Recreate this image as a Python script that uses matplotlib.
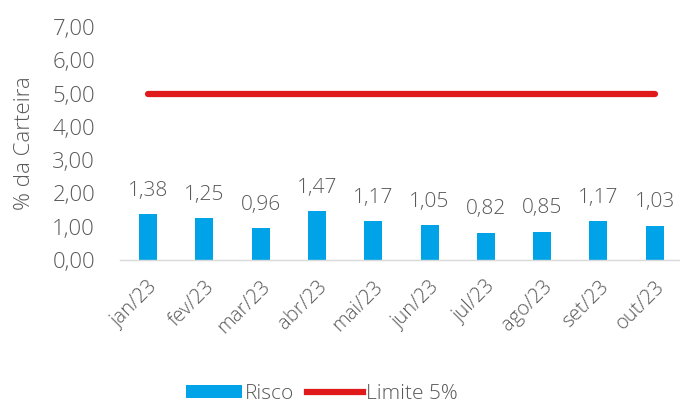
import matplotlib
matplotlib.use("Agg")
import matplotlib.pyplot as plt
from matplotlib.patches import Patch
from matplotlib.lines import Line2D

categories = ["jan/23", "fev/23", "mar/23", "abr/23", "mai/23", "jun/23", "jul/23", "ago/23", "set/23", "out/23"]
risco = [1.38, 1.25, 0.96, 1.47, 1.17, 1.05, 0.82, 0.85, 1.17, 1.03]
limite = [5.0] * len(categories)
yticks = [0, 1, 2, 3, 4, 5, 6, 7]

plt.rcParams['font.family'] = ['Open Sans', 'DejaVu Sans']
gray = "#595959"
blue = "#00A3E8"
red = "#E01A1A"

fig = plt.figure(figsize=(6.8, 4.05), dpi=100)
ax = fig.add_axes([120/680, 145/405, 560/680, 233/405])

x = list(range(len(categories)))
ax.bar(x, risco, width=0.32, color=blue, zorder=2)
ax.plot(x, limite, color=red, linewidth=4.5, solid_capstyle='round', zorder=3)

for xi, v in zip(x, risco):
    ax.text(xi, v + 0.4, f"{v:.2f}".replace(".", ","), ha="center", va="bottom",
            fontsize=15, color=gray, fontweight="light")

ax.set_xlim(-0.5, 9.45)
ax.set_ylim(0, 7)
ax.set_yticks(yticks)
ax.set_yticklabels([f"{t:.2f}".replace(".", ",") for t in yticks], fontsize=16, color=gray, fontweight="light")
ax.set_xticks(x)
ax.set_xticklabels(categories, rotation=45, ha="right", rotation_mode="anchor", fontsize=14.5, color=gray, fontweight="light")
ax.tick_params(axis="x", length=0, pad=12)
ax.tick_params(axis="y", length=0, pad=18)
for s in ["top", "right", "left"]:
    ax.spines[s].set_visible(False)
ax.spines["bottom"].set_color("#D9D9D9")
ax.spines["bottom"].set_linewidth(1)
ax.set_ylabel("% da Carteira", fontsize=16, color=gray, fontweight="light")
ax.yaxis.set_label_coords((35 - 120) / 560, 0.5)

handles = [Patch(facecolor=blue, edgecolor="none"),
           Line2D([0], [0], color=red, linewidth=4.5)]
leg = fig.legend(handles, ["Risco", "Limite 5%"], loc="center", bbox_to_anchor=(322/680, 1 - 394/405), ncol=2, frameon=False,
                 fontsize=15, handlelength=2.7, handleheight=0.6, columnspacing=0.6, handletextpad=0.15)
for t in leg.get_texts():
    t.set_color(gray)
    t.set_fontweight("light")

fig.savefig("out.png", dpi=100)
